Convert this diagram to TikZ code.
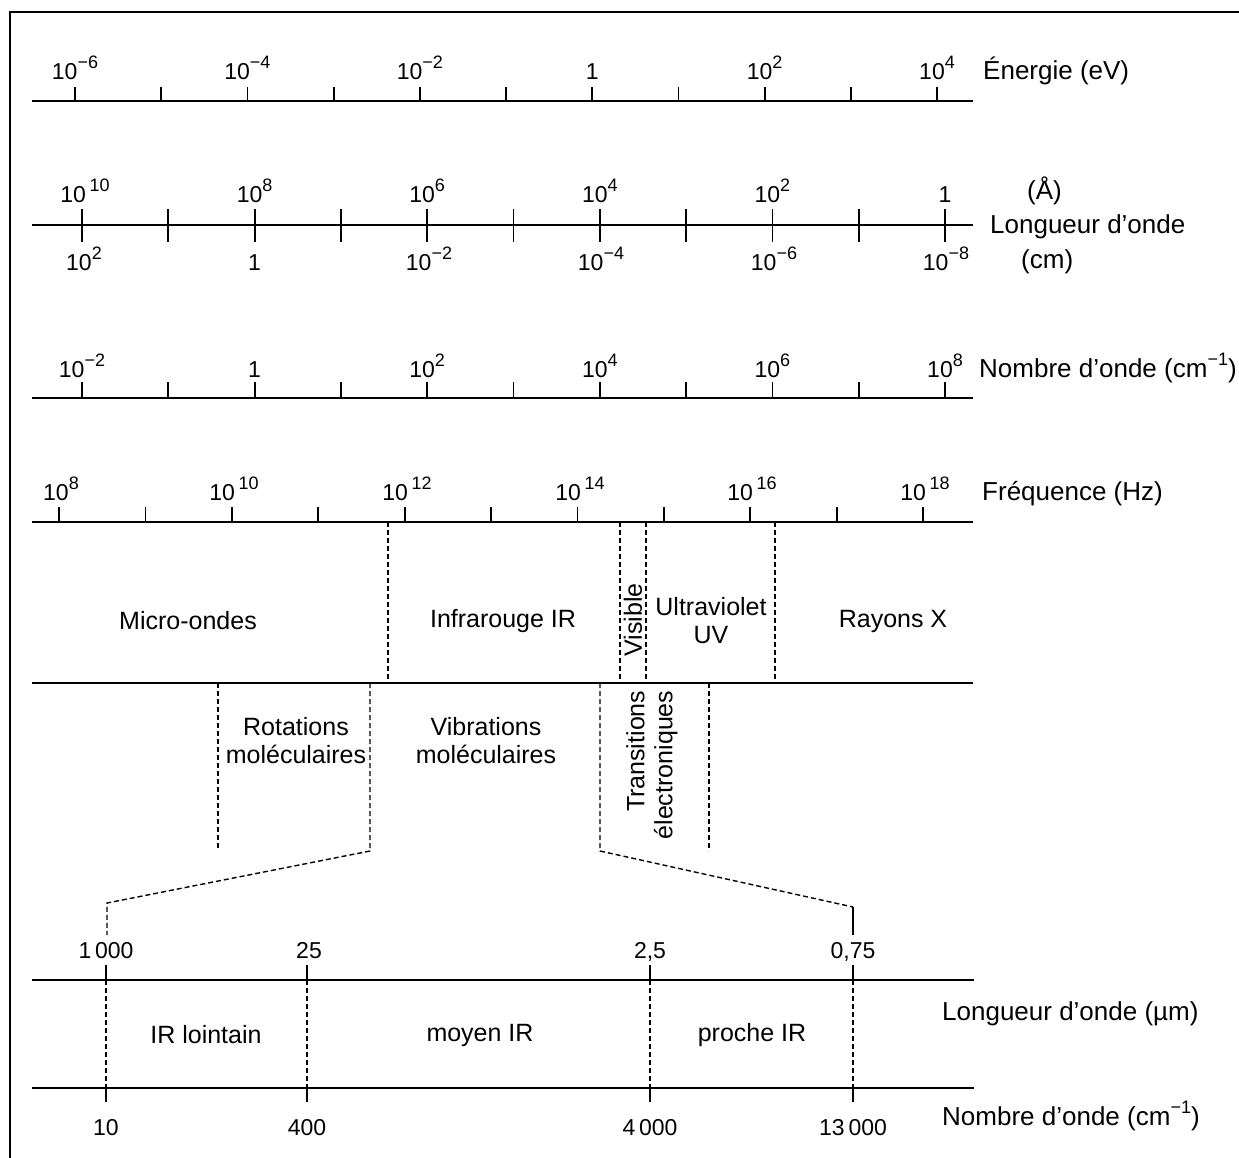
\documentclass[tikz,border=0pt]{standalone}
\usepackage{fontspec}
\setmainfont{Liberation Sans}
\newcommand{\supx}[1]{\raisebox{0.45em}{\fontsize{18}{18}\selectfont #1}}
\newcommand{\pw}[1]{10\supx{#1}}
\newcommand{\pws}[1]{10\,\supx{#1}}
\begin{document}
\begin{tikzpicture}[x=1pt,y=-1pt,
  axisline/.style={line width=2.4pt},
  tickline/.style={line width=1.8pt},
  dsh/.style={line width=1.4pt, dash pattern=on 5pt off 3pt},
  num/.style={font=\fontsize{23}{26}\selectfont, anchor=base, inner sep=0pt},
  lab/.style={font=\fontsize{26}{30}\selectfont, anchor=base west, inner sep=0pt},
  band/.style={font=\fontsize{25}{28}\selectfont, align=center, inner sep=0pt},
]
\useasboundingbox (0,0) rectangle (1239,1157);
\fill[white] (0,0) rectangle (1239,1157);
\clip (0,0) rectangle (1239,1157);
% frame
\draw[line width=2.5pt] (10,1160) -- (10,12) -- (1242,12);

% ---- Energie axis
\draw[axisline] (32,101) -- (973,101);
\foreach \k in {0,...,10} \draw[tickline] ({75+86.2*\k},101) -- ({75+86.2*\k},87);
\node[num] (e1) at (75,79) {\pw{−6}};
\node[num] (e2) at (247.4,79) {\pw{−4}};
\node[num] (e3) at (419.8,79) {\pw{−2}};
\node[num] (e4) at (592.2,79) {1};
\node[num] (e5) at (764.6,79) {\pw{2}};
\node[num] (e6) at (937,79) {\pw{4}};
\node[lab] (elab) at (983,79) {Énergie (eV)};

% ---- Longueur d'onde axis
\draw[axisline] (32,225) -- (973,225);
\foreach \k in {0,...,10} \draw[tickline] ({82+86.3*\k},209) -- ({82+86.3*\k},242);
\node[num] (la1) at (85,202) {\pws{10}};
\node[num] (la2) at (254.6,202) {\pw{8}};
\node[num] (la3) at (427.2,202) {\pw{6}};
\node[num] (la4) at (599.8,202) {\pw{4}};
\node[num] (la5) at (772.4,202) {\pw{2}};
\node[num] (la6) at (945,202) {1};
\node[num] (lc1) at (84,270) {\pw{2}};
\node[num] (lc2) at (254.6,270) {1};
\node[num] (lc3) at (429,270) {\pw{−2}};
\node[num] (lc4) at (601,270) {\pw{−4}};
\node[num] (lc5) at (774,270) {\pw{−6}};
\node[num] (lc6) at (946,270) {\pw{−8}};
\node[lab] (lA) at (1027,199) {(Å)};
\node[lab] (llab) at (990,233) {Longueur d’onde};
\node[lab] (lcm) at (1021,268) {(cm)};

% ---- Nombre d'onde axis
\draw[axisline] (32,398) -- (973,398);
\foreach \k in {0,...,10} \draw[tickline] ({82+86.3*\k},398) -- ({82+86.3*\k},382);
\node[num] (n1) at (82,377) {\pw{−2}};
\node[num] (n2) at (254.6,377) {1};
\node[num] (n3) at (427.2,377) {\pw{2}};
\node[num] (n4) at (599.8,377) {\pw{4}};
\node[num] (n5) at (772.4,377) {\pw{6}};
\node[num] (n6) at (945,377) {\pw{8}};
\node[lab] (nlab) at (979,377) {Nombre d’onde (cm\supx{−1})};

% ---- Frequence axis
\draw[axisline] (32,522) -- (973,522);
\foreach \k in {0,...,10} \draw[tickline] ({59+86.4*\k},522) -- ({59+86.4*\k},507);
\node[num] (f1) at (61,500) {\pw{8}};
\node[num] (f2) at (234,500) {\pws{10}};
\node[num] (f3) at (407,500) {\pws{12}};
\node[num] (f4) at (580,500) {\pws{14}};
\node[num] (f5) at (752,500) {\pws{16}};
\node[num] (f6) at (925,500) {\pws{18}};
\node[lab] (flab) at (982,500) {Fréquence (Hz)};

% ---- band of domains
\draw[axisline] (32,683) -- (973,683);
\draw[dsh] (388,522) -- (388,683);
\draw[dsh] (620,522) -- (620,683);
\draw[dsh] (646,522) -- (646,683);
\draw[dsh] (775,522) -- (775,683);
\node[band] (mo) at (188,621) {Micro-ondes};
\node[band] (ir) at (503,621) {Infrarouge IR};
\node[band, rotate=90] (vis) at (633,620) {Visible};
\node[band] (uv) at (711,621) {Ultraviolet\\UV};
\node[band] (rx) at (893,621) {Rayons X};

% ---- molecular processes
\draw[dsh] (218,683) -- (218,850);
\draw[dsh] (709,683) -- (709,851);
\draw[dsh] (370,683) -- (370,851) -- (107,903) -- (107,935);
\draw[dsh] (600,683) -- (600,851) -- (853,907);
\draw[line width=1.4pt] (853,907) -- (853,935);
\node[band] (rot) at (296,741) {Rotations\\moléculaires};
\node[band] (vib) at (486,741) {Vibrations\\moléculaires};
\node[band, rotate=90, align=right] (tr) at (652,765) {Transitions\\électroniques};

% ---- IR detail
\draw[axisline] (32,980) -- (974,980);
\draw[axisline] (32,1088) -- (974,1088);
\foreach \xx in {106,307,650,853} {
  \draw[tickline] (\xx,965) -- (\xx,980);
  \draw[dsh] (\xx,980) -- (\xx,1088);
  \draw[tickline] (\xx,1088) -- (\xx,1102);
}
\node[num] (w1) at (106,958) {1\,000};
\node[num] (w2) at (309,958) {25};
\node[num] (w3) at (650,958) {2,5};
\node[num] (w4) at (853,958) {0,75};
\node[num] (k1) at (106,1135) {10};
\node[num] (k2) at (307,1135) {400};
\node[num] (k3) at (650,1135) {4\,000};
\node[num] (k4) at (853,1135) {13\,000};
\node[band] (far) at (206,1035) {IR lointain};
\node[band] (mid) at (480,1035) {moyen IR};
\node[band] (near) at (752,1035) {proche IR};
\node[lab] (wlab) at (942,1020) {Longueur d’onde (µm)};
\node[lab] (klab) at (942,1125) {Nombre d’onde (cm\supx{−1})};
\end{tikzpicture}
\end{document}
